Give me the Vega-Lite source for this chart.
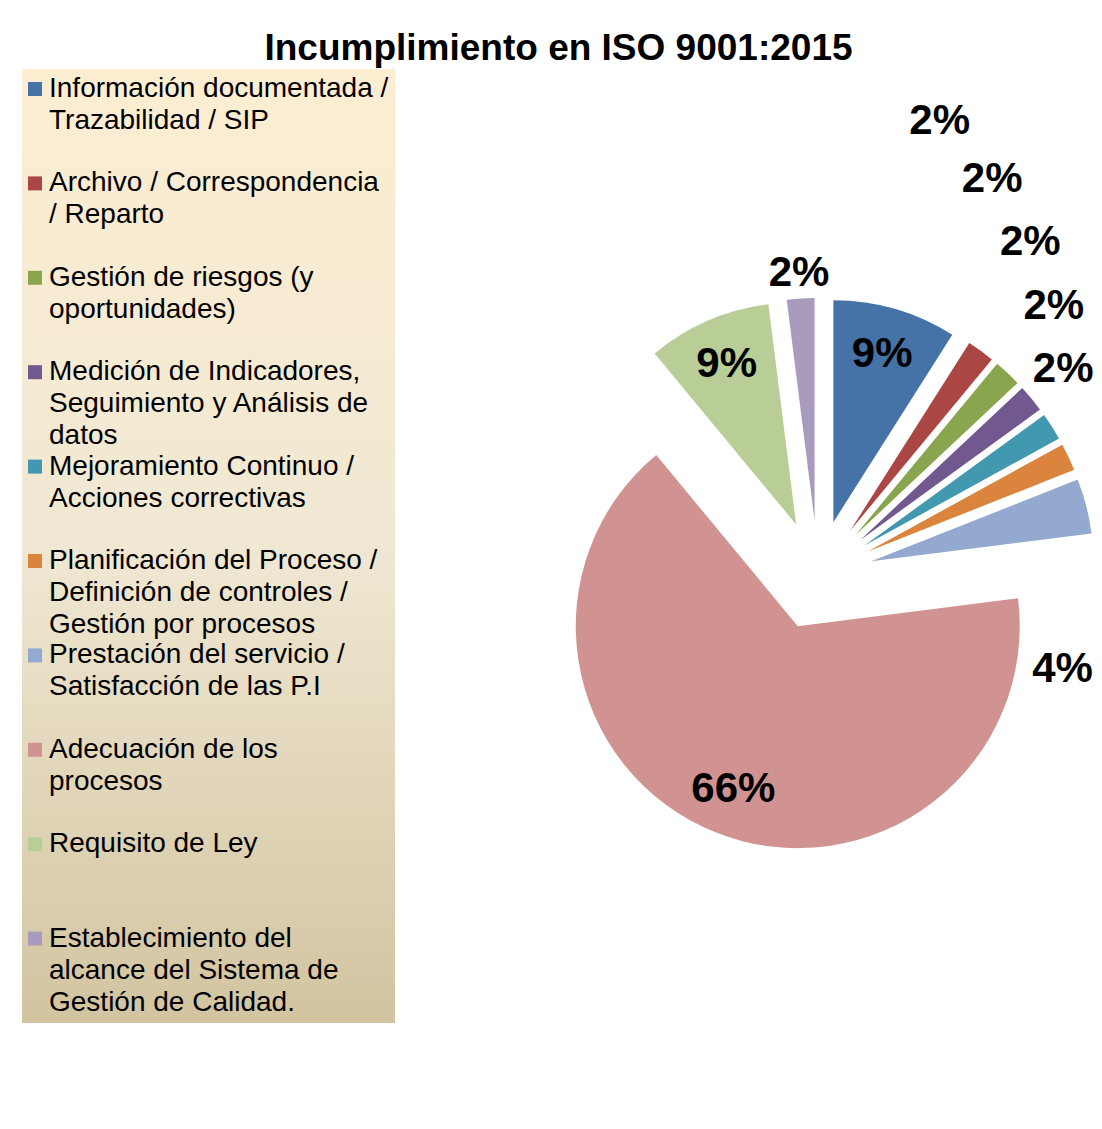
{
  "$schema": "https://vega.github.io/schema/vega-lite/v6.json",
  "width": 554,
  "height": 1012,
  "autosize": {"type": "pad"},
  "padding": {"left": 22, "top": 30, "right": 0, "bottom": 0},
  "background": "white",
  "title": {
    "text": "Incumplimiento en ISO 9001:2015",
    "font": "Liberation Sans",
    "fontSize": 37,
    "fontWeight": "bold",
    "color": "black",
    "anchor": "middle",
    "frame": "bounds",
    "offset": 1
  },
  "data": {
    "values": [
      {"categoria": "Información documentada / Trazabilidad / SIP", "orden": 1, "valor": 0.09},
      {"categoria": "Archivo / Correspondencia / Reparto", "orden": 2, "valor": 0.02},
      {"categoria": "Gestión de riesgos (y oportunidades)", "orden": 3, "valor": 0.02},
      {"categoria": "Medición de Indicadores, Seguimiento y Análisis de datos", "orden": 4, "valor": 0.02},
      {"categoria": "Mejoramiento Continuo / Acciones correctivas", "orden": 5, "valor": 0.02},
      {"categoria": "Planificación del Proceso / Definición de controles / Gestión por procesos", "orden": 6, "valor": 0.02},
      {"categoria": "Prestación del servicio / Satisfacción de las P.I", "orden": 7, "valor": 0.04},
      {"categoria": "Adecuación de los procesos", "orden": 8, "valor": 0.66},
      {"categoria": "Requisito de Ley", "orden": 9, "valor": 0.09},
      {"categoria": "Establecimiento del alcance del Sistema de Gestión de Calidad.", "orden": 10, "valor": 0.02}
    ]
  },
  "transform": [
    {"stack": "valor", "groupby": [], "sort": [{"field": "orden", "order": "ascending"}], "as": ["v0", "v1"]}
  ],
  "layer": [
    {
      "mark": {
        "type": "arc",
        "radius": 222,
        "x": {"expr": "width/2 + 55*sin(PI*(datum.v0+datum.v1))"},
        "y": {"expr": "height/2 - 55*cos(PI*(datum.v0+datum.v1))"}
      },
      "encoding": {
        "theta": {"field": "v0", "type": "quantitative", "scale": {"domain": [0, 1]}},
        "theta2": {"field": "v1"},
        "color": {
          "field": "categoria",
          "type": "nominal",
          "scale": {
            "domain": [
              "Información documentada / Trazabilidad / SIP",
              "Archivo / Correspondencia / Reparto",
              "Gestión de riesgos (y oportunidades)",
              "Medición de Indicadores, Seguimiento y Análisis de datos",
              "Mejoramiento Continuo / Acciones correctivas",
              "Planificación del Proceso / Definición de controles / Gestión por procesos",
              "Prestación del servicio / Satisfacción de las P.I",
              "Adecuación de los procesos",
              "Requisito de Ley",
              "Establecimiento del alcance del Sistema de Gestión de Calidad."
            ],
            "range": ["#4572A7", "#AA4643", "#89A54E", "#71588F", "#4198AF", "#DB843D", "#93A9CF", "#D19392", "#B9CD96", "#A99BBD"]
          },
          "legend": {
            "orient": "left",
            "offset": 146,
            "title": null,
            "padding": 6,
            "fillColor": "#f2e9d2",
            "labelFont": "Liberation Sans",
            "labelFontSize": 28,
            "labelColor": "black",
            "labelLimit": 0,
            "labelOffset": 0,
            "labelBaseline": "middle",
            "symbolType": "square",
            "symbolSize": 196,
            "symbolOffset": -7,
            "symbolStrokeWidth": 0,
            "symbolOpacity": 1,
            "rowPadding": 2.4,
            "labelExpr": "datum.label == 'Información documentada / Trazabilidad / SIP' ? ['Información documentada /', 'Trazabilidad / SIP', ''] : datum.label == 'Archivo / Correspondencia / Reparto' ? ['Archivo / Correspondencia', '/ Reparto', ''] : datum.label == 'Gestión de riesgos (y oportunidades)' ? ['Gestión de riesgos (y', 'oportunidades)', ''] : datum.label == 'Medición de Indicadores, Seguimiento y Análisis de datos' ? ['Medición de Indicadores,', 'Seguimiento  y Análisis de', 'datos'] : datum.label == 'Mejoramiento Continuo / Acciones correctivas' ? ['Mejoramiento Continuo /', 'Acciones correctivas', ''] : datum.label == 'Planificación del Proceso / Definición de controles / Gestión por procesos' ? ['Planificación del Proceso /', 'Definición de controles /', 'Gestión por procesos'] : datum.label == 'Prestación del servicio / Satisfacción de las P.I' ? ['Prestación del servicio /', 'Satisfacción de las P.I', ''] : datum.label == 'Adecuación de los procesos' ? ['Adecuación de los', 'procesos', ''] : datum.label == 'Requisito de Ley' ? ['Requisito de Ley', '', ''] : ['Establecimiento del', 'alcance del Sistema de', 'Gestión de Calidad.']",
            "encoding": {
              "legend": {
                "fill": {"value": {"gradient": "linear", "x1": 0, "y1": 0, "x2": 0, "y2": 1, "stops": [{"offset": 0, "color": "#fdeed2"}, {"offset": 0.5, "color": "#f0e8d3"}, {"offset": 1, "color": "#d2c4a0"}]}}
              },
              "labels": {
                "lineHeight": {"value": 32}
              }
            }
          }
        }
      }
    },
    {
      "mark": {"type": "text", "radius": 230, "font": "Liberation Sans", "fontSize": 42, "fontWeight": "bold", "color": "black", "align": "center", "baseline": "middle"},
      "encoding": {
        "theta": {"field": "valor", "type": "quantitative", "stack": true, "scale": {"domain": [0, 1]}},
        "order": {"field": "orden", "type": "quantitative"},
        "text": {"condition": {"test": "datum.valor >= 0.05", "field": "valor", "type": "quantitative", "format": ".0%"}, "value": ""}
      }
    },
    {
      "transform": [{"filter": "datum.valor < 0.05"}],
      "mark": {"type": "text", "font": "Liberation Sans", "fontSize": 42, "fontWeight": "bold", "color": "black", "align": "center", "baseline": "middle"},
      "encoding": {
        "theta": {"field": "v0", "type": "quantitative", "scale": {"zero": false, "domain": [0.09, 0.17, 0.19, 0.98], "range": [0.2618, 0.8727, 1.9373, 6.2204]}},
        "radius": {"field": "orden", "type": "quantitative", "scale": {"type": "linear", "zero": false, "domain": [2, 6, 7, 10], "range": [470, 320, 262, 303]}},
        "text": {"field": "valor", "type": "quantitative", "format": ".0%"}
      }
    }
  ],
  "resolve": {"scale": {"theta": "independent", "radius": "independent"}},
  "config": {"view": {"stroke": null}}
}
